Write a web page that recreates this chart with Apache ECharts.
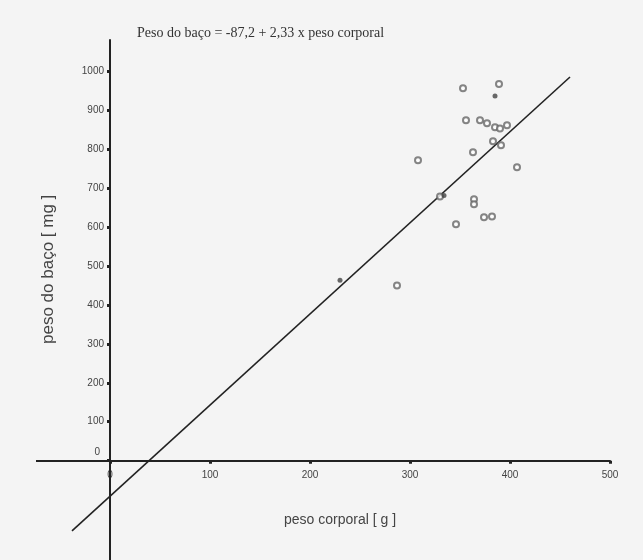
<!DOCTYPE html>
<html>
<head>
<meta charset="utf-8">
<script src="https://cdn.jsdelivr.net/npm/echarts@6/dist/echarts.min.js"></script>
<style>
  html, body { margin: 0; padding: 0; background: #f4f4f4; }
  #chart { width: 643px; height: 560px; }
</style>
</head>
<body>
<div id="chart"></div>
<script>
// pesos corporais (g) e pesos do baço (mg)
var pesoCorporal = [353, 389, 356, 370, 377, 385, 390, 397, 383, 391, 363, 308, 407, 330, 364, 364, 374, 382, 346, 287];
var pesoBaco     = [956, 967, 874, 874, 866, 856, 853, 861, 820, 810, 792, 771, 753, 678, 671, 658, 625, 627, 607, 450];

// pontos cheios
var pesoCorporalCheio = [385, 230, 334];
var pesoBacoCheio     = [936, 463, 681];

// reta de regressão (extremos)
var retaX = [-38, 460];
var retaY = [-180, 985];

var xTicks = [0, 100, 200, 300, 400, 500];
var yTicks = [0, 100, 200, 300, 400, 500, 600, 700, 800, 900, 1000];

function pares(xs, ys) {
  return xs.map(function (x, i) { return [x, ys[i]]; });
}

var corEixo = '#222';
var fonteEixo = { color: '#444', fontSize: 10, fontFamily: 'Liberation Sans Narrow, Liberation Sans' };

var myChart = echarts.init(document.getElementById('chart'));

var option = {
  backgroundColor: '#f4f4f4',
  animation: false,
  title: {
    text: 'Peso do baço = -87,2 + 2,33 x peso corporal',
    left: 132,
    top: 21,
    textStyle: { fontFamily: 'Liberation Serif', fontSize: 14, fontWeight: 'normal', color: '#333' }
  },
  grid: [
    // área completa, incluindo a parte negativa
    { left: 36, right: 33, top: 40, bottom: 0, outerBoundsMode: 'none', containLabel: false },
    // quadrante positivo, onde ficam as marcas e rótulos
    { left: 110, right: 33, top: 40, bottom: 99.3, outerBoundsMode: 'none', containLabel: false }
  ],
  xAxis: [
    {
      type: 'value', gridIndex: 0, min: -74, max: 500,
      axisLine: { show: false }, axisTick: { show: false }, axisLabel: { show: false },
      splitLine: { show: false }
    },
    {
      type: 'value', gridIndex: 1, min: 0, max: 500,
      axisLine: { onZero: false, lineStyle: { color: corEixo, width: 2 } },
      axisTick: { customValues: xTicks, length: 3, lineStyle: { color: corEixo, width: 3 } },
      axisLabel: Object.assign({ customValues: xTicks, margin: 10 }, fonteEixo),
      splitLine: { show: false }
    }
  ],
  yAxis: [
    {
      type: 'value', gridIndex: 0, min: -255, max: 1080,
      axisLine: { show: false }, axisTick: { show: false }, axisLabel: { show: false },
      splitLine: { show: false }
    },
    {
      type: 'value', gridIndex: 1, min: 0, max: 1080,
      axisLine: { onZero: false, lineStyle: { color: corEixo, width: 2 } },
      axisTick: { customValues: yTicks, length: 3, lineStyle: { color: corEixo, width: 3 } },
      axisLabel: Object.assign({
        customValues: yTicks, margin: 6,
        formatter: function (v) { return v === 0 ? '{z|0}' : String(v); },
        rich: { z: { padding: [0, 4, 16, 0], fontSize: 10, color: '#444' } }
      }, fonteEixo),
      splitLine: { show: false }
    }
  ],
  graphic: [
    {
      type: 'text',
      left: 284,
      top: 513,
      style: { text: 'peso corporal [ g ]', fontSize: 14, fontFamily: 'Liberation Sans', fill: '#444' }
    },
    {
      type: 'text',
      rotation: Math.PI / 2,
      x: 40,
      y: 344,
      style: { text: 'peso do baço [ mg ]', fontSize: 17, fontFamily: 'Liberation Sans', fill: '#444' }
    }
  ],
  series: [
    {
      // eixos passando pela origem, estendidos até a parte negativa
      type: 'line',
      xAxisIndex: 0, yAxisIndex: 0,
      data: [],
      markLine: {
        silent: true,
        symbol: 'none',
        label: { show: false },
        lineStyle: { color: corEixo, width: 2, type: 'solid' },
        data: [{ xAxis: 0 }, { yAxis: 0 }]
      }
    },
    {
      type: 'line',
      xAxisIndex: 0, yAxisIndex: 0,
      data: pares(retaX, retaY),
      symbol: 'none',
      lineStyle: { color: corEixo, width: 1.6 },
      z: 3
    },
    {
      type: 'scatter',
      xAxisIndex: 0, yAxisIndex: 0,
      data: pares(pesoCorporal, pesoBaco),
      symbol: 'emptyCircle',
      symbolSize: 6,
      itemStyle: { color: '#666', borderColor: '#555', borderWidth: 1 },
      z: 4
    },
    {
      type: 'scatter',
      xAxisIndex: 0, yAxisIndex: 0,
      data: pares(pesoCorporalCheio, pesoBacoCheio),
      symbol: 'circle',
      symbolSize: 5,
      itemStyle: { color: '#444' },
      z: 4
    }
  ]
};

myChart.setOption(option);
</script>
</body>
</html>
